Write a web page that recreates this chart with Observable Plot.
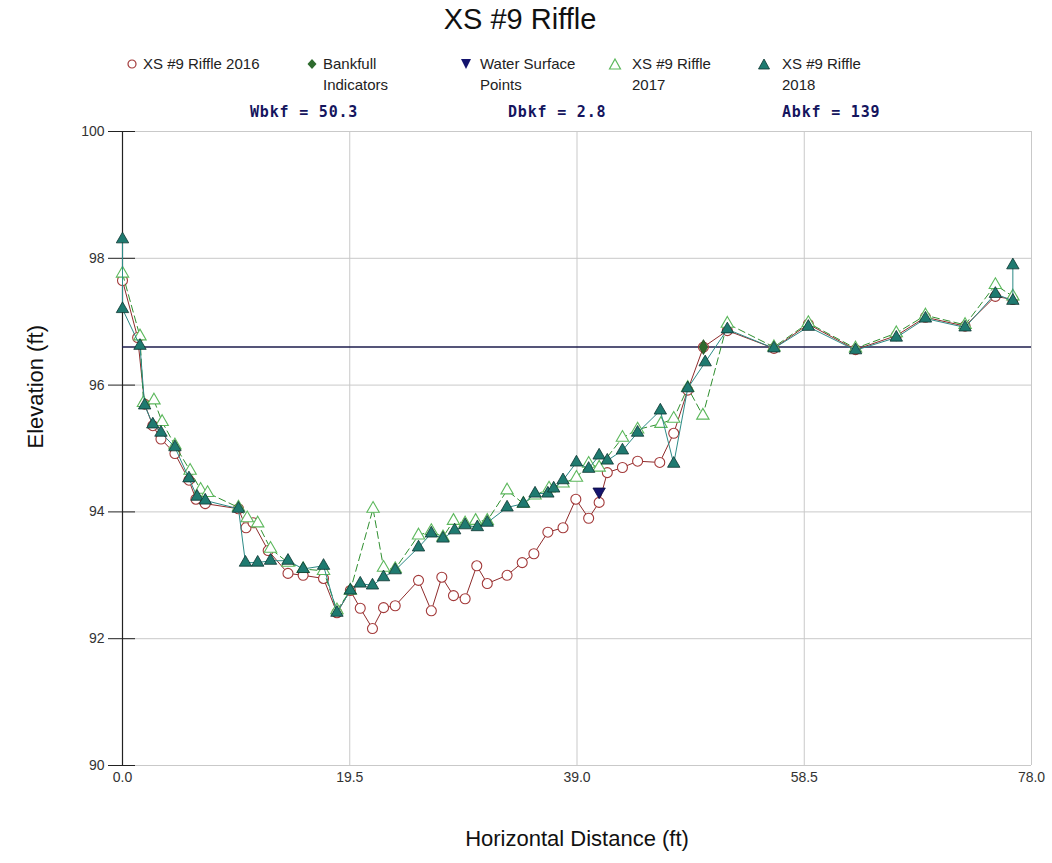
<!DOCTYPE html>
<html>
<head>
<meta charset="utf-8">
<script src="https://cdn.jsdelivr.net/npm/d3@7"></script>
<script src="https://cdn.jsdelivr.net/npm/@observablehq/plot@0.6"></script>
<style>
  body { margin: 0; background: #fff; font-family: "Liberation Sans", Arial, sans-serif; }
  #page { position: relative; width: 1052px; height: 863px; }
  #head { position: relative; width: 1052px; height: 100px; }
  .title { position: absolute; left: 0; width: 1040px; top: 3px; text-align: center; font-size: 29px; color: #111; }
  .leg { position: absolute; top: 53px; font-size: 15px; line-height: 21px; color: #222; }
  .leg svg { position: absolute; top: 3px; overflow: visible; }
  #stats { position: absolute; left: 0; top: 0; z-index: 2; }
  .stat { position: absolute; top: 103px; font-family: "DejaVu Sans Mono", monospace; font-weight: bold; font-size: 15px; color: #15155e; letter-spacing: 0.8px; white-space: pre; }
  #chart { position: absolute; left: 0; top: 100px; z-index: 1; }
</style>
</head>
<body>
<div id="page">
  <div id="head">
    <div class="title">XS #9 Riffle</div>
    <div id="legend"></div>
  </div>
  <div id="chart"></div>
  <div id="stats"></div>
</div>
<script>
// Survey of cross-section #9 (riffle): station (ft) and elevation (ft) per year
const x2016 = [0.0, 1.3, 1.9, 2.6, 3.3, 4.5, 5.7, 6.3, 7.1, 9.95, 10.6, 11.2, 12.5, 14.2, 15.5, 17.25, 18.4, 19.55, 20.4, 21.45, 22.4, 23.4, 25.4, 26.5, 27.4, 28.4, 29.4, 30.4, 31.3, 33.0, 34.3, 35.3, 36.5, 37.8, 38.9, 40.0, 40.9, 41.6, 42.9, 44.2, 46.1, 47.3, 48.5, 49.85, 51.9, 55.9, 58.85, 62.9, 66.4, 68.9, 72.3, 74.9, 76.4];
const y2016 = [97.65, 96.75, 95.7, 95.36, 95.15, 94.92, 94.5, 94.2, 94.13, 94.05, 93.75, 93.83, 93.39, 93.03, 93.0, 92.95, 92.41, 92.76, 92.48, 92.16, 92.49, 92.52, 92.92, 92.44, 92.97, 92.68, 92.63, 93.15, 92.87, 93.0, 93.2, 93.34, 93.68, 93.75, 94.2, 93.9, 94.15, 94.62, 94.7, 94.8, 94.78, 95.24, 95.92, 96.6, 96.86, 96.58, 96.96, 96.56, 96.78, 97.07, 96.93, 97.4, 97.35];

const x2017 = [0.0, 1.5, 1.8, 2.7, 3.4, 4.5, 5.8, 6.7, 7.3, 9.95, 10.7, 11.6, 12.7, 14.2, 15.5, 17.25, 18.4, 19.55, 21.5, 22.4, 23.4, 25.4, 26.5, 27.5, 28.4, 29.4, 30.3, 31.3, 33.0, 34.4, 35.4, 36.6, 37.8, 38.95, 40.0, 40.9, 42.9, 44.2, 46.2, 47.3, 48.5, 49.8, 51.9, 55.9, 58.85, 62.9, 66.4, 68.9, 72.3, 74.9, 76.4];
const y2017 = [97.76, 96.77, 95.72, 95.76, 95.42, 95.05, 94.65, 94.35, 94.3, 94.07, 93.9, 93.82, 93.42, 93.2, 93.1, 93.07, 92.45, 92.76, 94.05, 93.12, 93.1, 93.63, 93.7, 93.6, 93.86, 93.82, 93.86, 93.86, 94.34, 94.13, 94.26, 94.37, 94.45, 94.54, 94.76, 94.7, 95.17, 95.3, 95.39, 95.47, 95.96, 95.52, 96.97, 96.6, 96.98, 96.58, 96.82, 97.1, 96.95, 97.58, 97.4];

const x2018 = [0.0, 0.0, 1.5, 1.9, 2.6, 3.3, 4.5, 5.7, 6.4, 7.1, 9.95, 10.55, 11.6, 12.7, 14.2, 15.5, 17.25, 18.4, 19.55, 20.4, 21.45, 22.4, 23.4, 25.4, 26.5, 27.5, 28.5, 29.4, 30.45, 31.3, 33.0, 34.4, 35.4, 36.5, 37.0, 37.8, 38.95, 40.0, 40.9, 41.6, 42.9, 44.2, 46.15, 47.3, 48.5, 50.0, 51.9, 55.9, 58.85, 62.9, 66.4, 68.9, 72.3, 74.9, 76.4, 76.4];
const y2018 = [98.3, 97.2, 96.62, 95.68, 95.38, 95.25, 95.02, 94.53, 94.24, 94.18, 94.05, 93.2, 93.2, 93.23, 93.23, 93.1, 93.15, 92.41, 92.76, 92.87, 92.84, 92.97, 93.08, 93.44, 93.66, 93.58, 93.71, 93.79, 93.76, 93.83, 94.07, 94.13, 94.29, 94.29, 94.37, 94.5, 94.78, 94.68, 94.89, 94.81, 94.97, 95.25, 95.6, 94.76, 95.95, 96.36, 96.88, 96.58, 96.92, 96.55, 96.75, 97.05, 96.91, 97.44, 97.33, 97.89];

// Bankfull indicator and water-surface shots
const xBankfull = [49.85];
const yBankfull = [96.6];
const xWater = [40.9];
const yWater = [94.32];

// Bankfull stage and channel dimensions
const bankfullStage = 96.6;
const statLabels = ["Wbkf = 50.3", "Dbkf = 2.8", "Abkf = 139"];

// Axis ticks
const xTicks = [0, 19.5, 39, 58.5, 78];
const yTicks = [90, 92, 94, 96, 98, 100];

// Legend entries
const legendItems = [
  {lines: ["XS #9 Riffle 2016"], symbol: "circle"},
  {lines: ["Bankfull", "Indicators"], symbol: "diamond"},
  {lines: ["Water Surface", "Points"], symbol: "down"},
  {lines: ["XS #9 Riffle", "2017"], symbol: "open-tri"},
  {lines: ["XS #9 Riffle", "2018"], symbol: "tri"}
];
const legendLeft = [143, 323, 480, 632, 782];
const iconOffset = [-11, -11, -14, -17, -18];
const statLeft = [250, 508, 782];

const C = {
  s2016: "#8e2b2b", s2016dot: "#a33a3a",
  s2017: "#2f8f2f", s2017dot: "#5cb85c",
  s2018: "#2c8a86", s2018fill: "#1f7a70", s2018edge: "#0d3530",
  water: "#14146e", bank: "#2e6b2e", bankLine: "#1c1c4c", grid: "#c9c9c9"
};

const zip = (xs, ys) => xs.map((x, i) => ({x, y: ys[i]}));
const d2016 = zip(x2016, y2016);
const d2017 = zip(x2017, y2017);
const d2018 = zip(x2018, y2018);
const dBank = zip(xBankfull, yBankfull);
const dWater = zip(xWater, yWater);

// Legend
const legend = document.getElementById("legend");
const icon = {
  circle: `<circle cx="0" cy="8" r="4" fill="#fff" stroke="${C.s2016dot}" stroke-width="1.2"/>`,
  diamond: `<path d="M0,3 L4.5,8 L0,13 L-4.5,8Z" fill="${C.bank}"/>`,
  down: `<path d="M-5,3 L5,3 L0,13Z" fill="${C.water}"/>`,
  "open-tri": `<path d="M0,3 L5.5,13 L-5.5,13Z" fill="#fff" stroke="${C.s2017dot}" stroke-width="1.2"/>`,
  tri: `<path d="M0,3 L5.5,13 L-5.5,13Z" fill="${C.s2018fill}" stroke="${C.s2018edge}" stroke-width="0.8"/>`
};
legendItems.forEach((it, i) => {
  const div = document.createElement("div");
  div.className = "leg";
  div.style.left = legendLeft[i] + "px";
  div.innerHTML = `<svg width="1" height="1" style="left:${iconOffset[i]}px">${icon[it.symbol]}</svg>` + it.lines.join("<br>");
  legend.appendChild(div);
});
const stats = document.getElementById("stats");
statLabels.forEach((s, i) => {
  const div = document.createElement("div");
  div.className = "stat";
  div.style.left = statLeft[i] + "px";
  div.textContent = s;
  stats.appendChild(div);
});

const chart = Plot.plot({
  width: 1052,
  height: 763,
  marginTop: 31,
  marginLeft: 122,
  marginRight: 21,
  marginBottom: 98,
  style: {fontFamily: "Liberation Sans, Arial, sans-serif", background: "transparent"},
  x: {domain: [0, 78]},
  y: {domain: [90, 100]},
  marks: [
    Plot.gridX(xTicks, {stroke: C.grid, strokeOpacity: 1}),
    Plot.gridY(yTicks, {stroke: C.grid, strokeOpacity: 1}),
    Plot.axisX(xTicks, {tickSize: 0, tickPadding: 7, tickFormat: d3.format(".1f"), fontSize: 14, color: "#333", label: null}),
    Plot.axisY(yTicks, {tickSize: 14, tickPadding: 4, tickFormat: d3.format("d"), fontSize: 14, color: "#333", stroke: "#222", label: null}),
    Plot.axisY(yTicks, {tickSize: -13, tickFormat: () => "", stroke: "#222", label: null}),
    Plot.ruleX([0], {stroke: "#222", strokeWidth: 1.2}),
    Plot.ruleY([bankfullStage], {stroke: C.bankLine, strokeWidth: 1.5}),
    // 2016 survey
    Plot.line(d2016, {x: "x", y: "y", stroke: C.s2016, strokeWidth: 1}),
    Plot.dot(d2016, {x: "x", y: "y", r: 5, fill: "#fff", stroke: C.s2016dot, strokeWidth: 1.1}),
    // 2017 survey
    Plot.line(d2017, {x: "x", y: "y", stroke: C.s2017, strokeWidth: 1, strokeDasharray: "7,4"}),
    Plot.dot(d2017, {x: "x", y: "y", symbol: "triangle", r: 4.6, fill: "#fff", stroke: C.s2017dot, strokeWidth: 1.1}),
    // 2018 survey
    Plot.line(d2018, {x: "x", y: "y", stroke: C.s2018, strokeWidth: 1}),
    Plot.dot(d2018, {x: "x", y: "y", symbol: "triangle", r: 4.6, fill: C.s2018fill, stroke: C.s2018edge, strokeWidth: 0.8}),
    // Indicators
    Plot.dot(dBank, {x: "x", y: "y", symbol: "diamond", r: 4.5, fill: C.bank, stroke: "#1b4a1b", strokeWidth: 0.8}),
    Plot.dot(dWater, {x: "x", y: "y", symbol: "triangle", rotate: 180, r: 4.6, fill: C.water, stroke: "#0a0a40", strokeWidth: 0.8}),
    // Axis titles
    Plot.text(["Horizontal Distance (ft)"], {frameAnchor: "bottom", dy: 73, fontSize: 22, fill: "#111", lineAnchor: "middle"}),
    Plot.text(["Elevation (ft)"], {frameAnchor: "left", dx: -87, rotate: -90, fontSize: 22, fill: "#111", lineAnchor: "middle"})
  ]
});
document.getElementById("chart").appendChild(chart);
</script>
</body>
</html>
